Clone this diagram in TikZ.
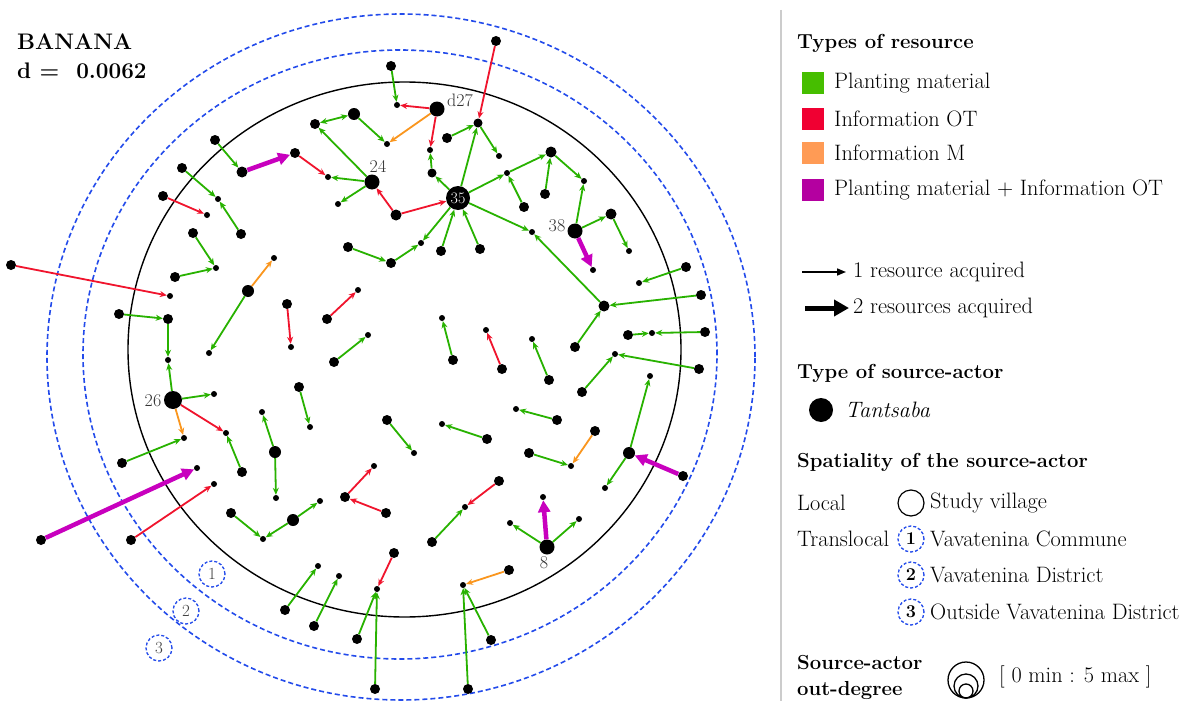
\documentclass[tikz,border=0pt]{standalone}
\usetikzlibrary{arrows.meta}
\definecolor{cG}{RGB}{40,178,0}
\definecolor{cR}{RGB}{240,20,45}
\definecolor{cO}{RGB}{250,150,30}
\definecolor{cM}{RGB}{200,0,190}
\definecolor{cB}{RGB}{35,75,235}
\definecolor{LG}{RGB}{70,190,0}
\definecolor{LR}{RGB}{240,0,50}
\definecolor{LO}{RGB}{255,155,85}
\definecolor{LM}{RGB}{180,0,160}
\begin{document}
\begin{tikzpicture}[x=1pt,y=-1pt,
  dt/.style={circle,fill=black,inner sep=0pt,minimum size=#1pt},
  ge/.style={draw=cG,line width=1.8pt,-{Stealth[length=7pt,width=6pt]}},
  geb/.style={draw=cG,line width=1.8pt,{Stealth[length=7pt,width=6pt]}-{Stealth[length=7pt,width=6pt]}},
  re/.style={draw=cR,line width=1.8pt,-{Stealth[length=7pt,width=6pt]}},
  oe/.style={draw=cO,line width=1.8pt,-{Stealth[length=7pt,width=6pt]}},
  me/.style={draw=cM,line width=4.5pt,-{Triangle[length=12pt,width=12pt]}},
  lbl/.style={font=\fontsize{18}{18}\selectfont,text=black!80,inner sep=0pt},
  zone/.style={circle,draw=cB,dash pattern=on 3pt off 2pt,line width=1.3pt,minimum size=26pt,inner sep=0pt,font=\fontsize{17}{17}\selectfont,text=black!75},
  lzone/.style={zone,text=black,font=\fontsize{18}{18}\selectfont\bfseries},
  legt/.style={anchor=west,inner sep=0pt,font=\fontsize{22.3}{24}\selectfont},
  legb/.style={anchor=west,inner sep=0pt,font=\fontsize{20.3}{24}\selectfont\bfseries},
  sqr/.style={rectangle,inner sep=0pt,minimum size=22pt}
]
\useasboundingbox (0,0) rectangle (1186,701);
\fill[white] (0,0) rectangle (1186,701);

% rings
\draw[cB,line width=1.6pt,dash pattern=on 5pt off 3pt] (401,357) ellipse [x radius=354pt, y radius=343pt];
\draw[cB,line width=1.6pt,dash pattern=on 5pt off 3pt] (400,354.5) ellipse [x radius=317pt, y radius=304.5pt];
\draw[black,line width=1.4pt] (404.5,349.5) ellipse [x radius=276.5pt, y radius=267.5pt];

\node[zone] (z1) at (212,574) {1};
\node[zone] (z2) at (186,611) {2};
\node[zone] (z3) at (159,648) {3};

% title
\node[anchor=west,inner sep=0pt,font=\fontsize{22.5}{24}\selectfont\bfseries] (title) at (17,42) {BANANA};
\node[anchor=west,inner sep=0pt,font=\fontsize{22.5}{24}\selectfont\bfseries] (dval) at (17,71) {d =\ \ 0.0062};

% nodes
\node[dt=10] (a1) at (391,66) {};
\node[dt=6] (a2) at (397,105) {};
\node[dt=15] (d27) at (437,109) {};
\node[dt=12] (a3) at (354,114) {};
\node[dt=10] (a4) at (315,124) {};
\node[dt=6] (a5) at (387,144) {};
\node[dt=6] (a6) at (430,150) {};
\node[dt=10] (a7) at (496,41) {};
\node[dt=9] (a8) at (478,123) {};
\node[dt=10] (a9) at (447,138) {};
\node[dt=6] (a10) at (499,156) {};
\node[dt=15] (n24) at (372,182) {};
\node[dt=6] (a11) at (328,177) {};
\node[dt=6] (a12) at (338,204) {};
\node[dt=11] (a13) at (396,215) {};
\node[dt=24,text=white,font=\fontsize{16}{16}\selectfont] (n35) at (458,198) {35};
\node[dt=9] (a14) at (432,173) {};
\node[dt=6] (a15) at (507,173) {};
\node[dt=11] (a16) at (551,152) {};
\node[dt=10] (a17) at (524,207) {};
\node[dt=10] (a18) at (545,194) {};
\node[dt=6] (a19) at (584,181) {};
\node[dt=15] (n38) at (575,231) {};
\node[dt=11] (a20) at (611,214) {};
\node[dt=6] (a21) at (629,251) {};
\node[dt=6] (a22) at (593,270) {};
\node[dt=6] (a23) at (532,232) {};
\node[dt=10] (a24) at (215,140) {};
\node[dt=11] (a25) at (242,172) {};
\node[dt=10] (a26) at (295,153) {};
\node[dt=10] (a27) at (182,168) {};
\node[dt=6] (a28) at (218,199) {};
\node[dt=10] (a29) at (241,234) {};
\node[dt=10] (a30) at (163,196) {};
\node[dt=6] (a31) at (207,215) {};
\node[dt=10] (a32) at (193,233) {};
\node[dt=6] (a33) at (216,268) {};
\node[dt=10] (a34) at (175,277) {};
\node[dt=10] (a35) at (11,265) {};
\node[dt=6] (a36) at (170,296) {};
\node[dt=12] (a37) at (248,291) {};
\node[dt=6] (a38) at (274,258) {};
\node[dt=6] (a39) at (209,353) {};
\node[dt=10] (a40) at (119,314) {};
\node[dt=10] (a41) at (168,319) {};
\node[dt=6] (a42) at (168,360) {};
\node[dt=18] (n26) at (173,400) {};
\node[dt=6] (a43) at (214,394) {};
\node[dt=6] (a44) at (226,433) {};
\node[dt=6] (a45) at (184,438) {};
\node[dt=10] (a46) at (122,463) {};
\node[dt=10] (a47) at (242,472) {};
\node[dt=10] (a48) at (41,540) {};
\node[dt=6] (a49) at (197,468) {};
\node[dt=10] (a50) at (131,540) {};
\node[dt=6] (a51) at (214,484) {};
\node[dt=10] (a52) at (348,247) {};
\node[dt=10] (a53) at (391,263) {};
\node[dt=6] (a54) at (421,243) {};
\node[dt=10] (a55) at (441,251) {};
\node[dt=10] (a56) at (480,249) {};
\node[dt=11] (a57) at (604,306) {};
\node[dt=10] (a58) at (686,267) {};
\node[dt=6] (a59) at (639,283) {};
\node[dt=10] (a60) at (701,295) {};
\node[dt=10] (a61) at (575,347) {};
\node[dt=10] (a62) at (628,335) {};
\node[dt=6] (a63) at (652,333) {};
\node[dt=10] (a64) at (705,332) {};
\node[dt=10] (a65) at (699,369) {};
\node[dt=6] (a66) at (615,354) {};
\node[dt=10] (a67) at (582,392) {};
\node[dt=12] (a68) at (629,453) {};
\node[dt=6] (a69) at (650,376) {};
\node[dt=10] (a70) at (683,476) {};
\node[dt=6] (a71) at (605,488) {};
\node[dt=10] (a72) at (287,304) {};
\node[dt=6] (a73) at (291,347) {};
\node[dt=10] (a74) at (327,319) {};
\node[dt=6] (a75) at (358,290) {};
\node[dt=10] (a76) at (334,362) {};
\node[dt=6] (a77) at (368,335) {};
\node[dt=10] (a78) at (453,360) {};
\node[dt=6] (a79) at (442,318) {};
\node[dt=10] (a80) at (502,369) {};
\node[dt=6] (a81) at (486,330) {};
\node[dt=10] (a82) at (549,380) {};
\node[dt=6] (a83) at (532,339) {};
\node[dt=10] (a84) at (557,420) {};
\node[dt=6] (a85) at (516,409) {};
\node[dt=10] (a86) at (487,439) {};
\node[dt=6] (a87) at (442,424) {};
\node[dt=10] (a88) at (387,420) {};
\node[dt=6] (a89) at (414,453) {};
\node[dt=10] (a90) at (299,387) {};
\node[dt=6] (a91) at (310,427) {};
\node[dt=12] (a92) at (275,452) {};
\node[dt=6] (a93) at (262,412) {};
\node[dt=6] (a94) at (276,498) {};
\node[dt=10] (a95) at (231,513) {};
\node[dt=6] (a96) at (263,539) {};
\node[dt=12] (a97) at (293,520) {};
\node[dt=6] (a98) at (320,501) {};
\node[dt=10] (a99) at (345,497) {};
\node[dt=6] (a100) at (374,466) {};
\node[dt=10] (a101) at (386,513) {};
\node[dt=10] (a102) at (595,431) {};
\node[dt=6] (a103) at (571,466) {};
\node[dt=10] (a104) at (529,453) {};
\node[dt=10] (a105) at (499,481) {};
\node[dt=6] (a106) at (465,507) {};
\node[dt=10] (a107) at (432,542) {};
\node[dt=15] (n8) at (547,547) {};
\node[dt=6] (a108) at (543,497) {};
\node[dt=6] (a109) at (510,523) {};
\node[dt=6] (a110) at (579,519) {};
\node[dt=10] (a111) at (509,570) {};
\node[dt=6] (a112) at (463,585) {};
\node[dt=10] (a113) at (491,640) {};
\node[dt=10] (a114) at (468,689) {};
\node[dt=10] (a115) at (394,553) {};
\node[dt=6] (a116) at (377,589) {};
\node[dt=10] (a117) at (357,639) {};
\node[dt=10] (a118) at (375,689) {};
\node[dt=10] (a119) at (285,610) {};
\node[dt=6] (a120) at (318,566) {};
\node[dt=10] (a121) at (314,626) {};
\node[dt=6] (a122) at (339,576) {};

% node labels
\node[lbl] (ld27) at (460,100) {d27};
\node[lbl] (l24) at (378,166) {24};
\node[lbl] (l38) at (557,226) {38};
\node[lbl] (l26) at (153,401) {26};
\node[lbl] (l8) at (544,563) {8};

% green edges
\foreach \s/\t in {a1/a2,a3/a5,n24/a4,n24/a11,n24/a12,a9/a8,a8/a10,n35/a8,n35/a14,a14/a6,
  n35/a15,a15/a16,a17/a15,a18/a16,a16/a19,n38/a19,n38/a20,a20/a21,n35/a23,a57/a23,
  a24/a25,a27/a28,a29/a28,a32/a33,a34/a33,a37/a39,a40/a41,a41/a42,n26/a42,n26/a43,
  a46/a45,a47/a44,a52/a53,a53/a54,n35/a54,a55/n35,a56/n35,a58/a59,a60/a57,a61/a57,
  a62/a63,a64/a63,a65/a66,a67/a66,a68/a69,a68/a71,a76/a77,a78/a79,a82/a83,a84/a85,
  a86/a87,a88/a89,a90/a91,a92/a93,a92/a94,a95/a96,a97/a96,a97/a98,a104/a103,a107/a106,
  n8/a109,n8/a110,a113/a112,a114/a112,a117/a116,a118/a116,a119/a120,a121/a122}
  \draw[ge] (\s) -- (\t);
\draw[geb] (a3) -- (a4);
% red edges
\foreach \s/\t in {d27/a2,d27/a6,a7/a8,a13/n24,a13/n35,a26/a11,a30/a31,a35/a36,n26/a44,
  a50/a51,a72/a73,a74/a75,a80/a81,a99/a100,a101/a99,a105/a106,a115/a116}
  \draw[re] (\s) -- (\t);
% orange edges
\foreach \s/\t in {d27/a5,a37/a38,n26/a45,a102/a103,a111/a112}
  \draw[oe] (\s) -- (\t);
% magenta edges
\foreach \s/\t in {a25/a26,n38/a22,a48/a49,a70/a68,n8/a108}
  \draw[me] (\s) -- (\t);

% divider
\coordinate (dvt) at (781,10);
\coordinate (dvb) at (781,701);
\draw[black!20,line width=1.6pt] (dvt) -- (dvb);

% legend
\node[legb] (h1) at (797,43) {Types of resource};
\node[sqr,fill=LG] (s1) at (813,83) {};
\node[sqr,fill=LR] (s2) at (813,119) {};
\node[sqr,fill=LO] (s3) at (813,153) {};
\node[sqr,fill=LM] (s4) at (813,190) {};
\node[legt] (t1) at (834,83) {Planting material};
\node[legt] (t2) at (834,119) {Information OT};
\node[legt] (t3) at (834,153) {Information M};
\node[legt] (t4) at (834,190) {Planting material + Information OT};

\coordinate (ar1s) at (802,272);
\coordinate (ar1e) at (846,272);
\draw[line width=1.6pt,-{Triangle[length=9pt,width=7pt]}] (ar1s) -- (ar1e);
\node[legt] (t5) at (853,272) {1 resource acquired};
\coordinate (ar2s) at (805,308);
\coordinate (ar2e) at (849,308);
\draw[line width=5pt,-{Triangle[length=15pt,width=16pt]}] (ar2s) -- (ar2e);
\node[legt] (t6) at (853,308) {2 resources acquired};

\node[legb] (h2) at (797,373) {Type of source-actor};
\node[dt=24] (ldot) at (821,410) {};
\node[legt,font=\fontsize{22.3}{24}\selectfont\itshape] (t7) at (845,410) {Tantsaba};

\node[legb] (h3) at (797,462) {Spatiality of the source-actor};
\node[legt] (t8) at (797,503) {Local};
\node[circle,draw=black,line width=1.2pt,minimum size=26pt,inner sep=0pt] (lc0) at (911,503) {};
\node[legt] (t9) at (930,503) {Study village};
\node[legt] (t10) at (797,539) {Translocal};
\node[lzone] (lz1) at (911,539) {1};
\node[legt] (t11) at (930,539) {Vavatenina Commune};
\node[lzone] (lz2) at (911,575) {2};
\node[legt] (t12) at (930,575) {Vavatenina District};
\node[lzone] (lz3) at (911,612) {3};
\node[legt] (t13) at (930,612) {Outside Vavatenina District};

\node[legb] (h4) at (797,663) {Source-actor};
\node[legb] (h5) at (797,690) {out-degree};
\node[circle,draw=black,line width=1.3pt,minimum size=36pt,inner sep=0pt] (oc1) at (966,680) {};
\node[circle,draw=black,line width=1.3pt,minimum size=24pt,inner sep=0pt] (oc2) at (966,686) {};
\node[circle,draw=black,line width=1.3pt,minimum size=14pt,inner sep=0pt] (oc3) at (966,691) {};
\node[legt] (t14) at (999,677) {[ 0 min : 5 max ]};
\end{tikzpicture}
\end{document}
